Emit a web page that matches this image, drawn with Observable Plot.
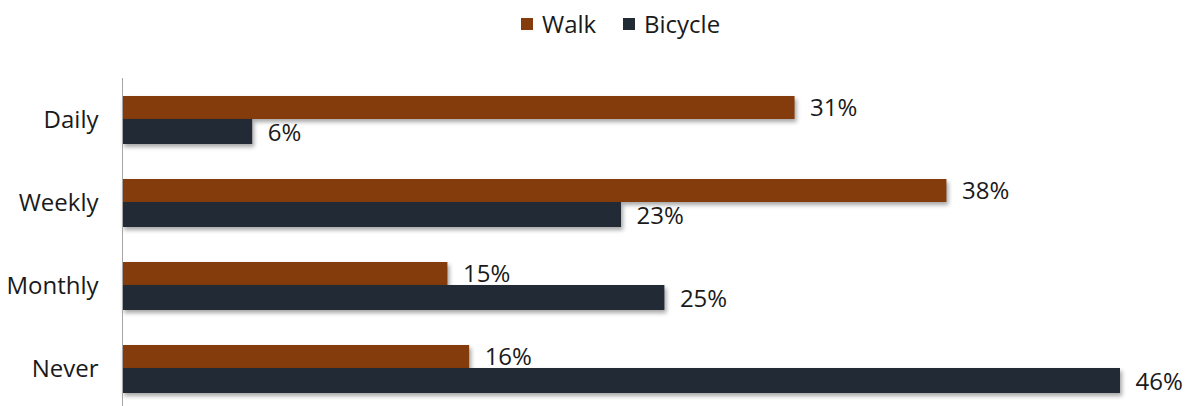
<!DOCTYPE html>
<html>
<head>
<meta charset="utf-8">
<script src="https://cdn.jsdelivr.net/npm/d3@7"></script>
<script src="https://cdn.jsdelivr.net/npm/@observablehq/plot@0.6"></script>
<style>
  html, body { margin: 0; padding: 0; background: #fff; }
  body { width: 1191px; height: 406px; overflow: hidden; font-family: "Open Sans", sans-serif; }
  #legend { height: 50px; position: relative; font-size: 24px; color: #1a1a1a; }
  .item { position: absolute; top: 7px; display: flex; align-items: center; }
  .sw { width: 12px; height: 12px; display: inline-block; margin-right: 9px; }
</style>
</head>
<body>
<div id="legend"></div>
<div id="chart"></div>
<script>
const categories = ["Daily", "Weekly", "Monthly", "Never"];
const series = ["Walk", "Bicycle"];
const walk = [31, 38, 15, 16];
const bicycle = [6, 23, 25, 46];
const colors = ["#843C0C", "#222A35"];

const data = [];
categories.forEach((c, i) => {
  data.push({category: c, series: "Walk", value: walk[i]});
  data.push({category: c, series: "Bicycle", value: bicycle[i]});
});
const walkData = data.filter(d => d.series === "Walk");
const bikeData = data.filter(d => d.series === "Bicycle");

// legend
const legend = document.getElementById("legend");
const lefts = [521, 623];
series.forEach((s, i) => {
  const el = document.createElement("div");
  el.className = "item";
  el.style.left = lefts[i] + "px";
  el.innerHTML = `<span class="sw" style="background:${colors[i]}"></span><span>${s}</span>`;
  legend.appendChild(el);
});

const fmt = d => d.value + "%";

const chart = Plot.plot({
  width: 1191,
  height: 356,
  marginLeft: 122,
  marginRight: 71,
  marginTop: 28,
  marginBottom: 0,
  style: {fontFamily: "Open Sans, sans-serif", fontSize: "24px", color: "#1a1a1a", background: "#fff"},
  x: {domain: [0, 46], axis: null},
  y: {domain: categories, range: [28.3, 361.7], paddingInner: 0.42, paddingOuter: 0.21, label: null, tickSize: 0, tickPadding: 24},
  marks: [
    Plot.barX(walkData, {x: "value", y: "category", fill: colors[0], insetBottom: 25, insetTop: 0}),
    Plot.barX(bikeData, {x: "value", y: "category", fill: colors[1], insetTop: 23, insetBottom: 0}),
    Plot.ruleX([0], {stroke: "#a6a6a6", strokeWidth: 1}),
    Plot.text(walkData, {x: "value", y: "category", text: fmt, dx: 15, dy: -12, textAnchor: "start", fill: "#1a1a1a"}),
    Plot.text(bikeData, {x: "value", y: "category", text: fmt, dx: 15, dy: 13, textAnchor: "start", fill: "#1a1a1a"})
  ]
});
d3.select(chart).selectAll("g[aria-label='bar']").style("filter", "drop-shadow(2px 3px 2px rgba(0,0,0,0.35))");
d3.select(chart).selectAll("g[aria-label='y-axis tick label'] text").attr("fill", "#1a1a1a");
document.getElementById("chart").appendChild(chart);
</script>
</body>
</html>
